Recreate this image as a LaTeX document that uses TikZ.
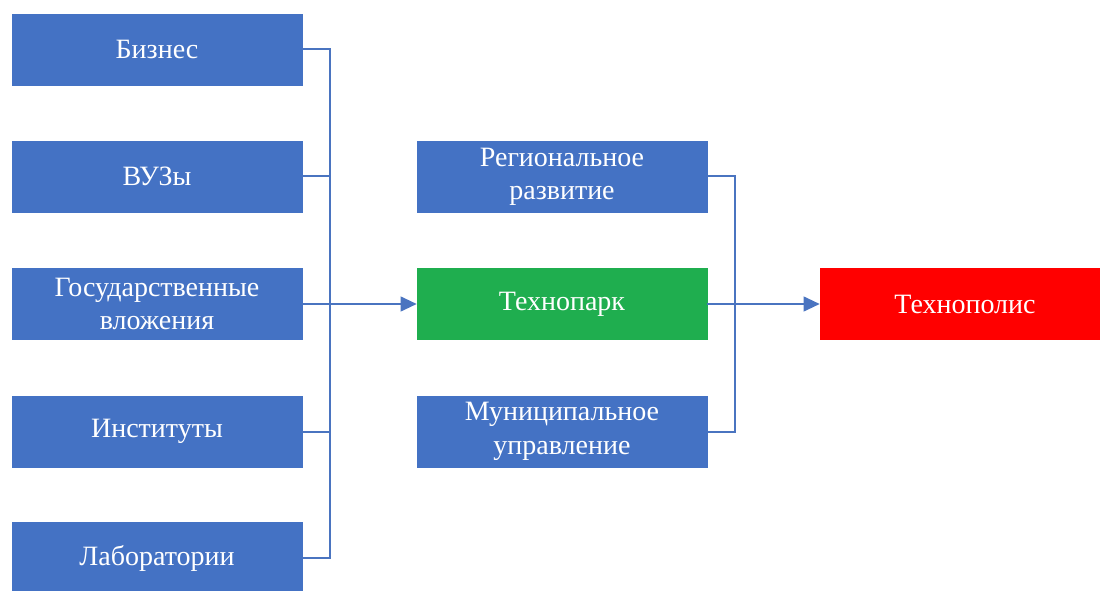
\documentclass[tikz,border=0pt]{standalone}
\usepackage{fontspec}
\setmainfont{Liberation Serif}
\usetikzlibrary{arrows.meta}
\definecolor{boxblue}{HTML}{4472C4}
\definecolor{parkgreen}{HTML}{1FAE4F}
\definecolor{polisred}{HTML}{FF0000}
\definecolor{linkblue}{HTML}{4A74C0}

\begin{document}
\begin{tikzpicture}[x=0.75pt,y=0.75pt,
    block/.style={fill=#1,draw=#1,text=white,align=center,inner sep=0pt,
      minimum width=217.5pt,minimum height=53.25pt,
      font=\fontsize{21}{25}\selectfont},
    block/.default=boxblue,
    link/.style={linkblue,line width=1.5pt},
    linkarrow/.style={link,-{Triangle[length=12pt,width=11pt]}}]
  \useasboundingbox (0,0) rectangle (1100,590);

  % Sources
  \node[block] (biz) at (157,540.5) {Бизнес};
  \node[block] (vuz) at (157,413.5) {ВУЗы};
  \node[block] (gos) at (157,286) {Государственные\\вложения};
  \node[block] (inst) at (157,158.5) {Институты};
  \node[block] (lab) at (157,32) {Лаборатории};

  % Middle column
  \node[block] (reg) at (562,413.5) {Региональное\\развитие};
  \node[block=parkgreen] (park) at (562,286) {Технопарк};
  \node[block] (mun) at (562,158.5) {Муниципальное\\управление};

  % Result
  \node[block=polisred] (polis) at (965,286) {Технополис};

  % Left bus
  \coordinate (busL) at (330,286);
  \foreach \src in {biz,vuz,inst,lab}
    \draw[link] (\src.east) -| (busL);
  \draw[linkarrow] (gos.east) -- (park.west);

  % Right bus
  \coordinate (busR) at (735,286);
  \draw[link] (reg.east) -| (busR);
  \draw[link] (mun.east) -| (busR);
  \draw[linkarrow] (park.east) -- (polis.west);
\end{tikzpicture}
\end{document}
